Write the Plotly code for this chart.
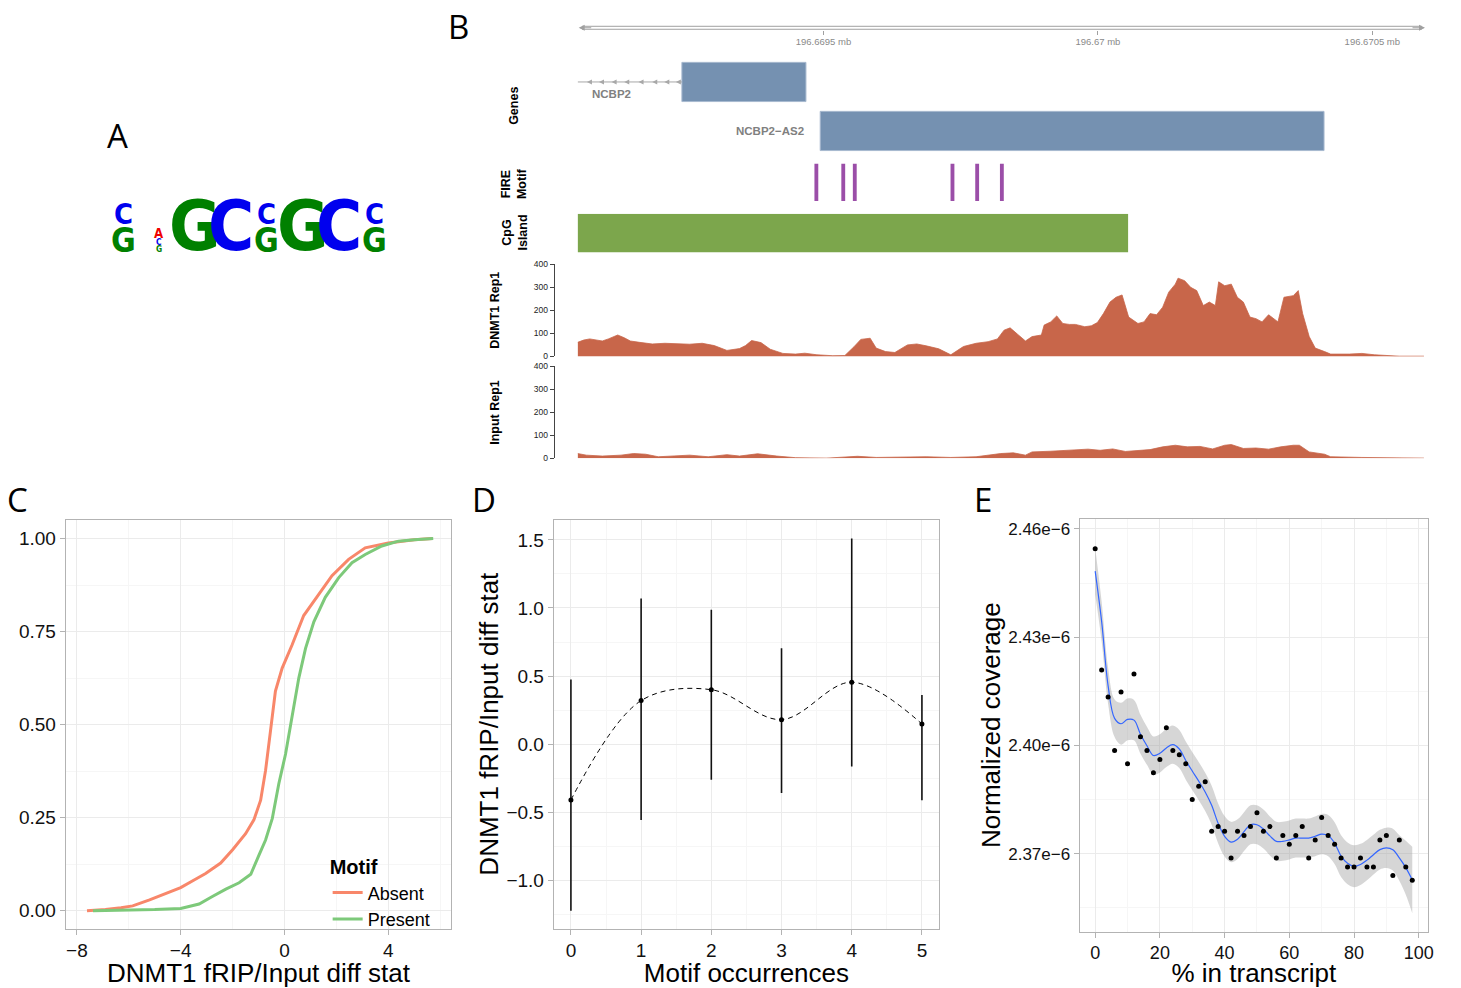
import plotly.graph_objects as go

W, H = 1461, 988

# ---------------- data ----------------
# Panel A: sequence logo (column, letters bottom->top, heights in bits)
logo_cols = [1, 2, 3, 4, 5, 6, 7, 8]
logo_letters = [["G", "C"], ["G", "C", "A"], ["G"], ["C"], ["G", "C"], ["G"], ["C"], ["G", "C"]]
logo_bits = [[0.56, 0.48], [0.14, 0.14, 0.22], [2.0], [2.0], [0.56, 0.48], [2.0], [2.0], [0.56, 0.48]]

# Panel B: genomic tracks (positions are offsets in bp from chrom_base)
chrom_base = 196669000
axis_ticks = [500, 1000, 1500]
axis_labels = ["196.6695 mb", "196.67 mb", "196.6705 mb"]
gene_names = ["NCBP2", "NCBP2\u2212AS2"]
gene_start = [242, 494]
gene_end = [468, 1412]
gene_row = [1, 0]
ncbp2_intron = [52, 242]
intron_arrows = [69, 91, 114, 137, 163, 188, 210, 231]
fire_pos = [487, 536, 557, 735, 780, 825]
cpg_start, cpg_end = 52, 1055

dnmt1_pos = [52, 63, 74, 86, 97, 108, 120, 125, 137, 148, 165, 188, 211, 233, 256, 279, 301, 324, 347, 358,
             369, 386, 403, 426, 449, 466, 488, 517, 539, 556, 568, 585, 596, 613, 630, 653, 670, 687, 710, 732,
             755, 778, 800, 817, 829, 840, 851, 868, 880, 897, 902, 914, 925, 936, 948, 959, 976, 988, 999, 1010,
             1022, 1033, 1044, 1056, 1073, 1084, 1095, 1107, 1118, 1129, 1141, 1146, 1158, 1169, 1180, 1192, 1203,
             1214, 1220, 1231, 1243, 1254, 1265, 1277, 1288, 1299, 1311, 1328, 1339, 1356, 1365, 1373, 1385, 1396,
             1413, 1424, 1458, 1481, 1504, 1526, 1549, 1594]
dnmt1_val = [61, 71, 76, 71, 67, 76, 87, 93, 81, 67, 61, 54, 57, 56, 53, 57, 47, 26, 34, 47,
             69, 60, 31, 13, 10, 14, 7, 3, 4, 43, 74, 79, 36, 21, 17, 50, 54, 46, 33, 7,
             43, 57, 64, 76, 114, 124, 100, 67, 86, 93, 136, 150, 176, 143, 139, 139, 129, 133, 147, 186,
             236, 257, 267, 171, 143, 150, 186, 181, 214, 279, 314, 340, 329, 300, 286, 221, 236,
             221, 324, 307, 314, 257, 236, 171, 164, 150, 181, 150, 257, 264, 286, 186, 86, 36,
             21, 10, 10, 13, 7, 4, 1, 1]
input_pos = [52, 68, 97, 131, 154, 176, 199, 222, 256, 290, 324, 347, 380, 415, 449, 505, 562, 596, 641, 687,
             732, 778, 823, 846, 868, 880, 914, 948, 982, 1004, 1027, 1050, 1073, 1095, 1118, 1141, 1163, 1186,
             1209, 1231, 1243, 1265, 1288, 1311, 1333, 1356, 1367, 1385, 1413, 1424, 1481, 1526, 1594]
input_val = [21, 14, 10, 14, 21, 18, 7, 11, 14, 7, 16, 10, 20, 10, 3, 1, 9, 4, 6, 7,
             4, 7, 21, 24, 14, 28, 31, 35, 40, 35, 41, 30, 35, 38, 50, 57, 50, 52,
             41, 57, 60, 43, 45, 40, 50, 57, 57, 28, 18, 7, 4, 4, 1]

# Panel C: ECDF curves
absent_x = [-7.61, -6.9, -6.3, -5.85, -5.2, -4.6, -4.0, -3.5, -3.04, -2.46, -2.0, -1.5, -1.18, -0.92,
            -0.73, -0.54, -0.35, -0.09, 0.29, 0.74, 1.32, 1.83, 2.47, 3.11, 4.0, 5.0, 5.7]
absent_y = [0.0, 0.003, 0.008, 0.013, 0.029, 0.045, 0.062, 0.082, 0.10, 0.128, 0.164, 0.207, 0.244, 0.297,
            0.377, 0.483, 0.59, 0.652, 0.714, 0.793, 0.851, 0.90, 0.944, 0.975, 0.988, 0.997, 1.0]
present_x = [-7.38, -6.0, -5.0, -4.0, -3.29, -2.78, -2.26, -1.75, -1.3, -0.98, -0.73, -0.47, -0.22, 0.04,
             0.29, 0.55, 0.81, 1.13, 1.57, 2.09, 2.6, 3.11, 3.75, 4.39, 5.0, 5.73]
present_y = [0.0, 0.001, 0.003, 0.006, 0.018, 0.038, 0.058, 0.075, 0.098, 0.15, 0.19, 0.248, 0.341, 0.421,
             0.519, 0.625, 0.705, 0.776, 0.842, 0.895, 0.935, 0.957, 0.98, 0.993, 0.997, 1.0]

# Panel D: mean and interval per motif count
occ = [0, 1, 2, 3, 4, 5]
occ_mean = [-0.41, 0.32, 0.40, 0.18, 0.455, 0.148]
occ_upper = [0.475, 1.07, 0.987, 0.705, 1.51, 0.361]
occ_lower = [-1.223, -0.557, -0.261, -0.358, -0.164, -0.412]

# Panel E: coverage along transcript (values in units of 1e-6)
pct = [0, 2, 4, 6, 8, 10, 12, 14, 16, 18, 20, 22, 24, 26, 28, 30, 32, 34, 36, 38, 40, 42, 44, 46, 48,
       50, 52, 54, 56, 58, 60, 62, 64, 66, 68, 70, 72, 74, 76, 78, 80, 82, 84, 86, 88, 90, 92, 94, 96, 98]
cov_e6 = [2.4545, 2.4209, 2.4134, 2.3986, 2.4148, 2.3949, 2.4198, 2.4024, 2.3986, 2.3924, 2.3961, 2.4049,
          2.3986, 2.3974, 2.3949, 2.3850, 2.3887, 2.3899, 2.3762, 2.3775, 2.3762, 2.3688, 2.3762, 2.3750,
          2.3775, 2.3813, 2.3762, 2.3775, 2.3688, 2.3750, 2.3726, 2.3750, 2.3775, 2.3688, 2.3738, 2.3800,
          2.3750, 2.3726, 2.3688, 2.3663, 2.3663, 2.3688, 2.3663, 2.3663, 2.3738, 2.3750, 2.3639, 2.3738,
          2.3663, 2.3626]
fit_e6 = [2.4483, 2.4343, 2.4165, 2.4075, 2.4060, 2.4072, 2.4070, 2.4031, 2.3999, 2.3972, 2.3978, 2.3993,
          2.4002, 2.3990, 2.3958, 2.3929, 2.3901, 2.3871, 2.3834, 2.3784, 2.3748, 2.3732, 2.3740, 2.3761,
          2.3780, 2.3780, 2.3768, 2.3749, 2.3734, 2.3734, 2.3738, 2.3743, 2.3743, 2.3743, 2.3748, 2.3754,
          2.3750, 2.3729, 2.3693, 2.3673, 2.3665, 2.3670, 2.3682, 2.3697, 2.3711, 2.3716, 2.3711, 2.3688,
          2.3661, 2.3627]
band_e6 = [0.0065, 0.0055, 0.0050, 0.0052, 0.0058, 0.0058, 0.0056, 0.0054, 0.0053, 0.0053, 0.0053, 0.0053,
           0.0053, 0.0053, 0.0053, 0.0053, 0.0053, 0.0053, 0.0054, 0.0055, 0.0056, 0.0056, 0.0055, 0.0054,
           0.0054, 0.0054, 0.0054, 0.0054, 0.0054, 0.0054, 0.0054, 0.0054, 0.0054, 0.0054, 0.0055, 0.0056,
           0.0057, 0.0058, 0.0058, 0.0058, 0.0058, 0.0057, 0.0056, 0.0055, 0.0055, 0.0056, 0.0058, 0.0063,
           0.0075, 0.0092]

# ---------------- helpers ----------------
def dx(a, b):
    return [a / W, b / W]

def dy(top, bottom):
    return [1 - bottom / H, 1 - top / H]

def px(p):
    return p / W

def py(p):
    return 1 - p / H

SANS = "Liberation Sans, Arial, Helvetica, sans-serif"
NARROW = "Liberation Sans Narrow, DejaVu Sans Condensed, Liberation Sans, sans-serif"
LETTER = "Open Sans, Liberation Sans, sans-serif"
SIG = "#C8664A"
GENE = "#7591B1"
BORDER = "#B3B3B3"

fig = go.Figure()

# ---------------- Panel B ----------------
g = lambda v: chrom_base + v

fig.add_trace(go.Scatter(x=[g(v) for v in ncbp2_intron], y=[1, 1], mode="lines",
                         line=dict(color="#A8A8A8", width=1), xaxis="x", yaxis="y2",
                         showlegend=False, hoverinfo="skip"))
fig.add_trace(go.Scatter(x=[g(v) for v in intron_arrows], y=[1] * len(intron_arrows), mode="markers",
                         marker=dict(symbol="arrow-left", size=5, color="#A8A8A8"),
                         xaxis="x", yaxis="y2", showlegend=False, hoverinfo="skip"))
fig.add_trace(go.Bar(orientation="h", y=gene_row, base=[g(s) for s in gene_start],
                     x=[e - s for s, e in zip(gene_start, gene_end)], width=0.8,
                     marker=dict(color=GENE, line=dict(color="#A7B9CF", width=1)),
                     xaxis="x", yaxis="y2", showlegend=False, hoverinfo="skip"))
fig.add_trace(go.Bar(x=[g(p) for p in fire_pos], y=[1] * len(fire_pos), base=0, width=7,
                     marker=dict(color="#9B4EA8", line=dict(width=0)),
                     xaxis="x", yaxis="y3", showlegend=False, hoverinfo="skip"))
fig.add_trace(go.Bar(orientation="h", y=[0.5], base=[g(cpg_start)], x=[cpg_end - cpg_start], width=1.0,
                     marker=dict(color="#7CA64C", line=dict(width=0)),
                     xaxis="x", yaxis="y4", showlegend=False, hoverinfo="skip"))
fig.add_trace(go.Scatter(x=[g(p) for p in dnmt1_pos], y=dnmt1_val, mode="lines", fill="tozeroy",
                         line=dict(color=SIG, width=0.8), fillcolor=SIG,
                         xaxis="x", yaxis="y5", showlegend=False, hoverinfo="skip"))
fig.add_trace(go.Scatter(x=[g(p) for p in input_pos], y=input_val, mode="lines", fill="tozeroy",
                         line=dict(color=SIG, width=0.8), fillcolor=SIG,
                         xaxis="x", yaxis="y6", showlegend=False, hoverinfo="skip"))

# ---------------- Panel C ----------------
fig.add_trace(go.Scatter(x=absent_x, y=absent_y, mode="lines", name="Absent",
                         line=dict(color="#F8876A", width=3), xaxis="x2", yaxis="y7"))
fig.add_trace(go.Scatter(x=present_x, y=present_y, mode="lines", name="Present",
                         line=dict(color="#7DC97A", width=3), xaxis="x2", yaxis="y7"))

# ---------------- Panel D ----------------
fig.add_trace(go.Scatter(x=occ, y=occ_mean, mode="lines", line=dict(color="black", width=1, dash="5px,4px",
                         shape="spline"), xaxis="x3", yaxis="y8", showlegend=False, hoverinfo="skip"))
fig.add_trace(go.Scatter(x=occ, y=occ_mean, mode="markers", marker=dict(color="black", size=5),
                         error_y=dict(type="data", symmetric=False,
                                      array=[u - m for u, m in zip(occ_upper, occ_mean)],
                                      arrayminus=[m - l for m, l in zip(occ_mean, occ_lower)],
                                      width=0, thickness=1.6, color="#111111"),
                         xaxis="x3", yaxis="y8", showlegend=False))

# ---------------- Panel E ----------------
fig.add_trace(go.Scatter(x=pct, y=[(f - b) * 1e-6 for f, b in zip(fit_e6, band_e6)], mode="lines",
                         line=dict(width=0, color="rgba(0,0,0,0)", shape="spline"), xaxis="x4", yaxis="y9",
                         showlegend=False, hoverinfo="skip"))
fig.add_trace(go.Scatter(x=pct, y=[(f + b) * 1e-6 for f, b in zip(fit_e6, band_e6)], mode="lines",
                         line=dict(width=0, color="rgba(0,0,0,0)", shape="spline"), fill="tonexty",
                         fillcolor="rgba(153,153,153,0.4)", xaxis="x4", yaxis="y9",
                         showlegend=False, hoverinfo="skip"))
fig.add_trace(go.Scatter(x=pct, y=[v * 1e-6 for v in fit_e6], mode="lines",
                         line=dict(color="#3366FF", width=1.2, shape="spline"), xaxis="x4", yaxis="y9",
                         showlegend=False, hoverinfo="skip"))
fig.add_trace(go.Scatter(x=pct, y=[v * 1e-6 for v in cov_e6], mode="markers",
                         marker=dict(color="black", size=5), xaxis="x4", yaxis="y9", showlegend=False))

# ---------------- Panel A (logo anchor trace) ----------------
fig.add_trace(go.Scatter(x=logo_cols, y=[0] * len(logo_cols), mode="markers", marker=dict(opacity=0),
                         xaxis="x5", yaxis="y10", showlegend=False, hoverinfo="skip"))


def gg_axis(domain, rng, anchor, tickvals, ticktext, minorvals, title=None, tsize=19, standoff=0):
    ax = dict(domain=domain, range=rng, anchor=anchor, showline=True, mirror=True, linecolor=BORDER,
              linewidth=1, showgrid=True, gridcolor="#EBEBEB", gridwidth=1, zeroline=False,
              ticks="outside", ticklen=5, tickcolor=BORDER, tickmode="array", tickvals=tickvals,
              ticktext=ticktext, tickfont=dict(family=SANS, size=tsize, color="#111111"),
              minor=dict(tickvals=minorvals, showgrid=True, gridcolor="#F6F6F6", gridwidth=1, ticks=""))
    if title:
        ax["title"] = dict(text=title, font=dict(family=SANS, size=26, color="black"), standoff=standoff)
    return ax


hidden = dict(visible=False, showgrid=False, zeroline=False)

layout = dict(
    width=W, height=H, margin=dict(l=0, r=0, t=0, b=0), autosize=False,
    paper_bgcolor="white", plot_bgcolor="white", barmode="overlay",
    font=dict(family=SANS, color="black"),
    # genomic axis
    xaxis=dict(domain=dx(580, 1432), range=[g(52), g(1598)], anchor="free", position=py(25), side="bottom",
               showgrid=False, zeroline=False, showline=False, ticks="outside", ticklen=4,
               tickcolor="#A0A0A0", tickmode="array", tickvals=[g(v) for v in axis_ticks],
               ticktext=axis_labels, ticklabelstandoff=-1,
               tickfont=dict(family=SANS, size=9.5, color="#8A8A8A")),
    yaxis2=dict(domain=dy(53, 152), range=[-0.5, 1.5], anchor="x", **hidden),
    yaxis3=dict(domain=dy(160, 198), range=[0, 1], anchor="x", **hidden),
    yaxis4=dict(domain=dy(211, 250), range=[0, 1], anchor="x", **hidden),
    yaxis5=dict(domain=dy(262, 355), range=[0, 400], anchor="free", position=px(556), showgrid=False,
                zeroline=False, showline=True, linecolor="#444444", linewidth=1, ticks="outside", ticklen=4,
                tickcolor="#444444", tickvals=[0, 100, 200, 300, 400],
                tickfont=dict(family=SANS, size=8.5, color="#222222")),
    yaxis6=dict(domain=dy(365, 458), range=[0, 400], anchor="free", position=px(556), showgrid=False,
                zeroline=False, showline=True, linecolor="#444444", linewidth=1, ticks="outside", ticklen=4,
                tickcolor="#444444", tickvals=[0, 100, 200, 300, 400],
                tickfont=dict(family=SANS, size=8.5, color="#222222")),
    # Panel C
    xaxis2=gg_axis(dx(66, 453), [-8.43, 6.42], "y7", [-8, -4, 0, 4], ["\u22128", "\u22124", "0", "4"],
                   [-6, -2, 2, 6], title="DNMT1 fRIP/Input diff stat"),
    yaxis7=gg_axis(dy(520, 933), [-0.048, 1.0505], "x2", [0, 0.25, 0.5, 0.75, 1.0],
                   ["0.00", "0.25", "0.50", "0.75", "1.00"], [0.125, 0.375, 0.625, 0.875]),
    # Panel D
    xaxis3=gg_axis(dx(556, 943), [-0.245, 5.245], "y8", occ, [str(v) for v in occ],
                   [0.5, 1.5, 2.5, 3.5, 4.5], title="Motif occurrences"),
    yaxis8=gg_axis(dy(520, 933), [-1.354, 1.648], "x3", [-1.0, -0.5, 0.0, 0.5, 1.0, 1.5],
                   ["\u22121.0", "\u22120.5", "0.0", "0.5", "1.0", "1.5"], [-1.25, -0.75, -0.25, 0.25, 0.75, 1.25],
                   title="DNMT1 fRIP/Input diff stat"),
    # Panel E
    xaxis4=gg_axis(dx(1084, 1434), [-4.83, 102.9], "y9", [0, 20, 40, 60, 80, 100],
                   ["0", "20", "40", "60", "80", "100"], [10, 30, 50, 70, 90], title="% in transcript",
                   tsize=18),
    yaxis9=gg_axis(dy(519, 936), [2.3484e-6, 2.46283e-6], "x4", [2.37e-6, 2.40e-6, 2.43e-6, 2.46e-6],
                   ["2.37e\u22126", "2.40e\u22126", "2.43e\u22126", "2.46e\u22126"],
                   [2.355e-6, 2.385e-6, 2.415e-6, 2.445e-6], title="Normalized coverage", tsize=17),
    # logo axes
    xaxis5=dict(domain=dx(106, 394), range=[0.5, 8.5], anchor="y10", **hidden),
    yaxis10=dict(domain=dy(150, 250), range=[0, 2], anchor="x5", **hidden),
    legend=dict(x=px(329), y=py(852), xanchor="left", yanchor="top", traceorder="normal",
                title=dict(text="<b>Motif</b>", font=dict(family=SANS, size=20, color="black")),
                font=dict(family=SANS, size=18, color="black"), bgcolor="rgba(0,0,0,0)",
                itemwidth=30, tracegroupgap=0),
)
fig.update_layout(**layout)

ann = []
# panel letters
for lab, (ax_, ay_) in zip(["A", "B", "C", "D", "E"],
                           [(118, 132), (460, 22), (18, 500), (486, 500), (987, 500)]):
    ann.append(dict(text=lab, x=px(ax_), y=py(ay_), xref="paper", yref="paper", showarrow=False,
                    xanchor="center", yanchor="middle", font=dict(family=LETTER, size=33, color="black")))
# track labels
for lab, (ax_, ay_) in zip(["<b>Genes</b>", "<b>FIRE<br>Motif</b>", "<b>CpG<br>Island</b>",
                            "<b>DNMT1 Rep1</b>", "<b>Input Rep1</b>"],
                           [(516, 102), (516, 180), (517, 230), (497, 308), (497, 411)]):
    ann.append(dict(text=lab, x=px(ax_), y=py(ay_), xref="paper", yref="paper", showarrow=False,
                    textangle=-90, xanchor="center", yanchor="middle",
                    font=dict(family=SANS, size=12.5, color="black")))
# gene names
ann.append(dict(text="<b>" + gene_names[0] + "</b>", x=g(113), y=gene_row[0], xref="x", yref="y2",
                yshift=-12, showarrow=False, xanchor="center", yanchor="middle",
                font=dict(family=SANS, size=11.5, color="#808080")))
ann.append(dict(text="<b>" + gene_names[1] + "</b>", x=g(469), y=gene_row[1], xref="x", yref="y2",
                showarrow=False, xanchor="right", yanchor="middle",
                font=dict(family=SANS, size=11.5, color="#808080")))
# genome axis arrow heads
ann.append(dict(text="", x=g(1596), y=py(23), xref="x", yref="paper", ax=-14, ay=0, axref="pixel",
                ayref="pixel", showarrow=True, arrowhead=2, arrowsize=1, arrowwidth=1.2, arrowcolor="#A0A0A0"))
ann.append(dict(text="", x=g(54), y=py(23), xref="x", yref="paper", ax=14, ay=0, axref="pixel",
                ayref="pixel", showarrow=True, arrowhead=2, arrowsize=1, arrowwidth=1.2, arrowcolor="#A0A0A0"))
# logo letters
logo_color = {"A": "#F00000", "C": "#0000EE", "G": "#008000"}
for col, letters, bits in zip(logo_cols, logo_letters, logo_bits):
    bottom = 0.0
    for let, h in zip(letters, bits):
        fs = min(h * 60, 70)
        ann.append(dict(text="<b>" + let + "</b>", x=col, y=bottom, xref="x5", yref="y10", showarrow=False,
                        xanchor="center", yanchor="bottom", yshift=-(2 + 0.212 * fs),
                        font=dict(family=NARROW, size=fs, color=logo_color[let])))
        bottom += h
fig.update_layout(annotations=ann)

# genome axis double line
fig.update_layout(shapes=[
    dict(type="line", xref="x", yref="paper", x0=g(60), x1=g(1590), y0=py(21.5), y1=py(21.5),
         line=dict(color="#A0A0A0", width=1)),
    dict(type="line", xref="x", yref="paper", x0=g(60), x1=g(1590), y0=py(24.5), y1=py(24.5),
         line=dict(color="#A0A0A0", width=1)),
])

fig.write_html("out.html", config={"displayModeBar": False},
               post_script="document.body.style.margin='0px';document.body.style.overflow='hidden';")
